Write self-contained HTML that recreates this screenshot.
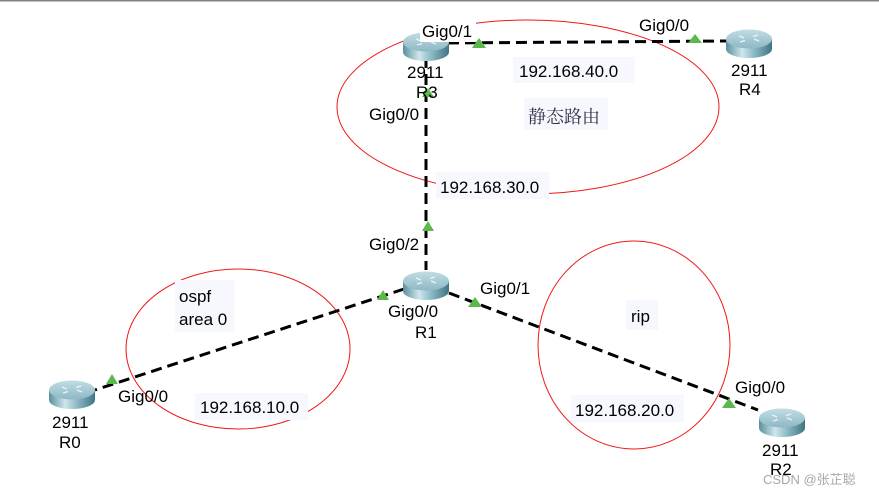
<!DOCTYPE html>
<html><head><meta charset="utf-8"><style>
html,body{margin:0;padding:0;background:#fff;}
svg{display:block;}
text{font-family:"Liberation Sans",Arial,sans-serif;font-size:17px;fill:#000;}
.lb{fill:#f6f8fd;}
</style></head><body>
<svg width="879" height="495" viewBox="0 0 879 495" xmlns="http://www.w3.org/2000/svg">
<defs>
<linearGradient id="side" x1="0" x2="1" y1="0" y2="0">
<stop offset="0" stop-color="#5a8f9c"/><stop offset="0.35" stop-color="#cfe6ec"/><stop offset="0.6" stop-color="#8fbcc7"/><stop offset="1" stop-color="#3f7484"/>
</linearGradient>
<linearGradient id="top" x1="0" x2="0" y1="0" y2="1">
<stop offset="0" stop-color="#c2dde4"/><stop offset="1" stop-color="#8db8c4"/>
</linearGradient>
<g id="rt">
<path d="M-23,-4 L-23,6 A23,9 0 0 0 23,6 L23,-4 Z" fill="url(#side)"/>
<ellipse cx="0" cy="-4" rx="23" ry="9.5" fill="url(#top)"/>
<path d="M-10,-7 l5,2 M10,-2 l-5,-2 M-9,-1 l5,-1.5 M9,-8 l-5,1.5" stroke="#e8f4f7" stroke-width="1.3" fill="none"/>
</g>
</defs>
<rect x="0" y="0" width="879" height="1.5" fill="#7d8288"/>
<ellipse cx="528" cy="107" rx="191" ry="87" fill="none" stroke="#f01818" stroke-width="1"/>
<ellipse cx="238" cy="349" rx="112" ry="80" fill="none" stroke="#f01818" stroke-width="1"/>
<ellipse cx="634" cy="345" rx="96" ry="104" fill="none" stroke="#f01818" stroke-width="1"/>
<g stroke="#000" stroke-width="3" stroke-dasharray="11,6" fill="none">
<line x1="448" y1="43" x2="727" y2="41"/>
<line x1="426" y1="57" x2="426" y2="270"/>
<line x1="404" y1="289" x2="95" y2="390"/>
<line x1="449" y1="293" x2="758" y2="410"/>
</g>
<g fill="#5cb84a">
<polygon points="479,38 486,48 472,48"/>
<polygon points="695,34 702,43 688,43"/>
<polygon points="428,88 434,97 422,97"/>
<polygon points="428,221 434,231 422,231"/>
<polygon points="383,290 389,300 377,300"/>
<polygon points="112,374 118,384 106,384"/>
<polygon points="475,297 482,307 468,307"/>
<polygon points="729,398 736,408 722,408"/>
</g>
<use href="#rt" x="426" y="46"/>
<use href="#rt" x="749" y="43"/>
<use href="#rt" x="426" y="285"/>
<use href="#rt" x="72" y="394"/>
<use href="#rt" x="782" y="422"/>
<rect class="lb" x="513" y="57" width="122" height="26"/>
<rect class="lb" x="524" y="98" width="84" height="32"/>
<rect class="lb" x="436" y="172" width="113" height="27"/>
<rect class="lb" x="175" y="280" width="60" height="52"/>
<rect class="lb" x="195" y="393" width="113" height="27"/>
<rect class="lb" x="626" y="300" width="32" height="30"/>
<rect class="lb" x="571" y="395" width="113" height="27"/>
<rect x="420" y="20" width="56" height="22" fill="#fff"/>
<text x="422" y="37">Gig0/1</text>
<text x="639" y="31">Gig0/0</text>
<text x="407" y="78">2911</text>
<text x="416" y="98">R3</text>
<text x="731" y="76">2911</text>
<text x="739" y="95">R4</text>
<text x="369" y="120">Gig0/0</text>
<text x="519" y="77">192.168.40.0</text>
<text x="528" y="123" style="font-family:'Noto Serif CJK SC','WenQuanYi Zen Hei',serif;fill:#33334a;font-size:18px">静态路由</text>
<text x="440" y="193">192.168.30.0</text>
<text x="369" y="250">Gig0/2</text>
<text x="480" y="294">Gig0/1</text>
<text x="388" y="317">Gig0/0</text>
<text x="415" y="338">R1</text>
<text x="179" y="302">ospf</text>
<text x="179" y="325">area 0</text>
<text x="118" y="402">Gig0/0</text>
<text x="52" y="428">2911</text>
<text x="59" y="448">R0</text>
<text x="200" y="413">192.168.10.0</text>
<text x="631" y="322">rip</text>
<text x="575" y="416">192.168.20.0</text>
<text x="735" y="393">Gig0/0</text>
<text x="762" y="456">2911</text>
<text x="770" y="475">R2</text>
<text x="763" y="484" style="font-family:'Liberation Sans','Noto Sans CJK SC',sans-serif;font-size:13px;fill:#a8a8a8">CSDN @张芷聪</text>
</svg>
</body></html>
